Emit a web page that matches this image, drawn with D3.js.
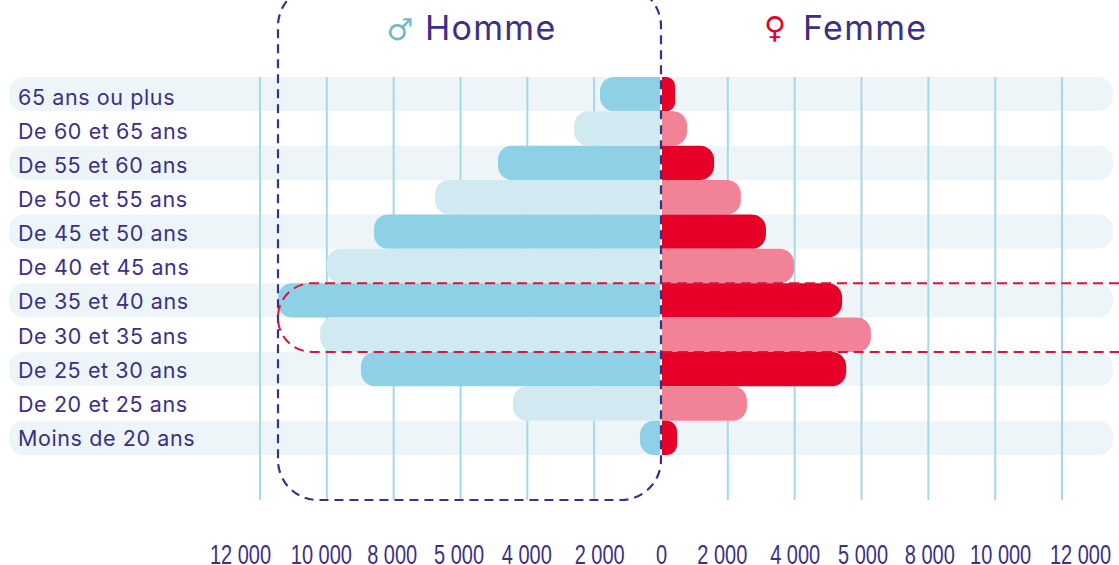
<!DOCTYPE html>
<html>
<head>
<meta charset="utf-8">
<script src="https://cdn.jsdelivr.net/npm/d3@7"></script>
<style>
html, body { margin: 0; padding: 0; background: #fff; overflow: hidden; }
text { fill: #3b3085; }
</style>
</head>
<body>
<div id="chart"></div>
<script>
// Data
var categories = ['65 ans ou plus', 'De 60 et 65 ans', 'De 55 et 60 ans', 'De 50 et 55 ans',
	'De 45 et 50 ans', 'De 40 et 45 ans', 'De 35 et 40 ans', 'De 30 et 35 ans',
	'De 25 et 30 ans', 'De 20 et 25 ans', 'Moins de 20 ans'];
var hommes = [1825, 2600, 4880, 6760, 8590, 10000, 11460, 10200, 8980, 4430, 630];
var femmes = [420, 780, 1590, 2390, 3140, 3980, 5420, 6280, 5540, 2570, 480];
var tickValues = [-12000, -10000, -8000, -6000, -4000, -2000, 0, 2000, 4000, 6000, 8000, 10000, 12000];
// labels as printed on the original (5 000 instead of 6 000)
var tickLabels = ['12 000', '10 000', '8 000', '5 000', '4 000', '2 000', '0',
	'2 000', '4 000', '5 000', '8 000', '10 000', '12 000'];

var chart_width = 1119;
var chart_height = 565;
var navy = '#3b3085';
// the printed labels do not sit exactly under their grid lines
var labelShift = [-20, -6, -2, -2, -1, 5, 0, -6, 0, 1, 1, 5, 18];

var x = d3.scaleLinear().domain([-12000, 12000]).range([260, 1062]);
var y = d3.scaleBand().domain(categories).range([77, 455]).padding(0);
// the row labels run on a slightly tighter pitch than the rows
var yLabel = d3.scaleBand().domain(categories).range([78.5, 454]).padding(0);

var svg = d3.select('#chart')
	.append('svg')
	.attr('width', chart_width)
	.attr('height', chart_height)
	.style('display', 'block');

// Row bands
svg.selectAll('.band')
	.data(categories)
	.enter()
	.append('rect')
	.attr('class', 'band')
	.attr('x', 9)
	.attr('width', 1104)
	.attr('y', function(d){ return y(d); })
	.attr('height', y.bandwidth())
	.attr('rx', 15)
	.attr('fill', function(d, i){ return i % 2 === 0 ? '#eef5f9' : '#fff'; });

// Grid lines
svg.selectAll('.grid')
	.data(tickValues.filter(function(d){ return d !== 0; }))
	.enter()
	.append('line')
	.attr('class', 'grid')
	.attr('x1', function(d){ return x(d); })
	.attr('x2', function(d){ return x(d); })
	.attr('y1', 77)
	.attr('y2', 500)
	.attr('stroke', '#a6d9e6')
	.attr('stroke-width', 2);

// One rounded outer end, square on the zero side
function barPath(value, dir, cat) {
	var x0 = x(0) + dir;
	var x1 = x(dir * value);
	var top = y(cat);
	var bottom = top + y.bandwidth();
	var r = Math.min(14, Math.abs(x1 - x0) * 0.7);
	var p = d3.path();
	p.moveTo(x0, top);
	p.lineTo(x1 - dir * r, top);
	p.bezierCurveTo(x1 - dir * r * 0.45, top, x1, top + r * 0.45, x1, top + r);
	p.lineTo(x1, bottom - r);
	p.bezierCurveTo(x1, bottom - r * 0.45, x1 - dir * r * 0.45, bottom, x1 - dir * r, bottom);
	p.lineTo(x0, bottom);
	p.closePath();
	return p.toString();
}

svg.selectAll('.homme')
	.data(hommes)
	.enter()
	.append('path')
	.attr('class', 'homme')
	.attr('d', function(d, i){ return barPath(d, -1, categories[i]); })
	.attr('fill', function(d, i){ return i % 2 === 0 ? '#8ed1e6' : '#d1e9f0'; });

svg.selectAll('.femme')
	.data(femmes)
	.enter()
	.append('path')
	.attr('class', 'femme')
	.attr('d', function(d, i){ return barPath(d, 1, categories[i]); })
	.attr('fill', function(d, i){ return i % 2 === 0 ? '#e60028' : '#f28396'; });

// Category labels
svg.selectAll('.cat')
	.data(categories)
	.enter()
	.append('text')
	.attr('class', 'cat')
	.attr('x', 18)
	.attr('y', function(d){ return yLabel(d) + yLabel.bandwidth() / 2 + 9; })
	.style('font-family', 'Inter')
	.style('font-size', '21.5px')
	.style('letter-spacing', '0.6px')
	.text(function(d){ return d; });

// Tick labels, condensed like the original
var axis = d3.axisBottom(x).tickValues(tickValues).tickSize(0).tickPadding(0)
	.tickFormat(function(d, i){ return tickLabels[i]; });
var axisG = svg.append('g').attr('transform', 'translate(0,564)').call(axis);
axisG.select('.domain').remove();
axisG.selectAll('.tick text')
	.attr('y', 0)
	.attr('dy', 0)
	.attr('transform', function(d, i){ return 'translate(' + labelShift[i] + ',0) scale(0.74,1)'; })
	.style('font-family', '"Liberation Sans"')
	.style('font-size', '27px');

// Headers
svg.append('text').attr('x', 400).attr('y', 40).attr('text-anchor', 'middle')
	.style('font-family', 'DejaVu Sans').style('font-size', '30px')
	.style('fill', '#72b9c6').text('\u2642');
svg.append('text').attr('x', 425).attr('y', 40)
	.style('font-family', 'Inter').style('font-size', '34px').style('letter-spacing', '1.3px').text('Homme');
svg.append('text').attr('x', 775).attr('y', 38).attr('text-anchor', 'middle')
	.style('font-family', 'DejaVu Sans').style('font-size', '30px')
	.style('fill', '#e60028').text('\u2640');
svg.append('text').attr('x', 803).attr('y', 40)
	.style('font-family', 'Inter').style('font-size', '34px').style('letter-spacing', '1.3px').text('Femme');

// Dashed highlights
svg.append('rect')
	.attr('x', 278).attr('y', -14)
	.attr('width', x(0) - 278).attr('height', 514)
	.attr('rx', 40)
	.attr('fill', 'none')
	.attr('stroke', navy)
	.attr('stroke-width', 2.2)
	.attr('stroke-dasharray', '9 6');

var rowTop = y('De 35 et 40 ans');
var rowBottom = y('De 30 et 35 ans') + y.bandwidth();
var red = d3.path();
red.moveTo(chart_width, rowTop);
red.lineTo(278 + 34, rowTop);
red.arcTo(278, rowTop, 278, rowTop + 34, 34);
red.arcTo(278, rowBottom, 278 + 34, rowBottom, 34);
red.lineTo(chart_width, rowBottom);
svg.append('path')
	.attr('d', red.toString())
	.attr('fill', 'none')
	.attr('stroke', '#e0103a')
	.attr('stroke-width', 2)
	.attr('stroke-dasharray', '10 6');
</script>
</body>
</html>
